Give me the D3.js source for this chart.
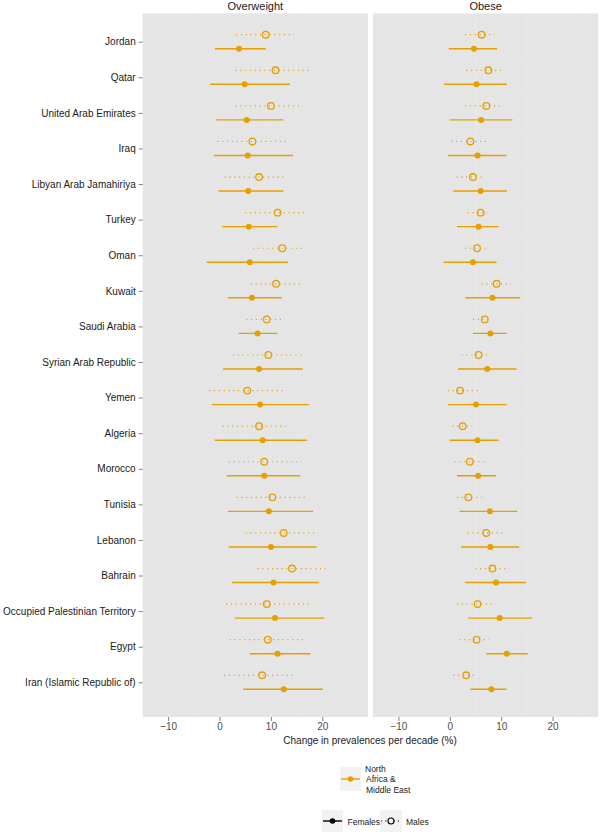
<!DOCTYPE html>
<html><head><meta charset="utf-8">
<script src="https://cdn.jsdelivr.net/npm/d3@7/dist/d3.min.js"></script>
<style>body{margin:0;background:#fff}svg{display:block}text{font-family:"Liberation Sans",Arial,sans-serif}</style>
</head><body>
<script>
const countries = ["Jordan","Qatar","United Arab Emirates","Iraq","Libyan Arab Jamahiriya","Turkey","Oman","Kuwait","Saudi Arabia","Syrian Arab Republic","Yemen","Algeria","Morocco","Tunisia","Lebanon","Bahrain","Occupied Palestinian Territory","Egypt","Iran (Islamic Republic of)"];
const panels = ["Overweight","Obese"];
const xTicks = [-10,0,10,20];
// Overweight: [est, lo, hi]
const owMales = [[9.0,3.2,14.5],[10.9,3.1,17.9],[10.0,3.1,16.2],[6.4,-0.4,13.5],[7.7,1.0,13.1],[11.3,5.0,17.0],[12.2,6.5,16.8],[11.0,6.1,15.7],[9.2,5.2,12.7],[9.5,2.6,16.4],[5.4,-2.0,12.9],[7.7,0.6,12.9],[8.7,1.8,15.9],[10.3,3.3,16.6],[12.5,5.1,19.2],[14.1,7.4,20.6],[9.2,1.3,17.7],[9.4,2.0,17.0],[8.3,0.9,14.2]];
const owFemales = [[3.8,-0.9,9.0],[4.9,-1.8,13.7],[5.3,-0.7,12.4],[5.5,-1.1,14.3],[5.6,-0.2,12.4],[5.7,0.5,11.3],[5.9,-2.5,13.3],[6.3,1.6,12.1],[7.4,3.7,11.3],[7.7,0.7,16.2],[7.9,-1.5,17.4],[8.4,-0.9,17.0],[8.7,1.4,15.7],[9.6,1.6,18.2],[10.0,1.8,18.9],[10.5,2.4,19.3],[10.8,3.0,20.4],[11.3,5.9,17.7],[12.5,4.6,20.1]];
// Obese: [est, lo, hi]
const obMales = [[6.2,3.0,8.7],[7.5,3.2,10.0],[7.1,3.0,9.8],[4.0,0.3,7.1],[4.5,1.3,6.7],[6.0,3.5,7.3],[5.3,3.0,7.6],[9.1,6.2,11.9],[6.8,4.5,8.2],[5.6,2.3,8.0],[2.0,-0.4,5.4],[2.5,0.5,4.3],[3.9,0.9,7.5],[3.6,1.4,6.2],[7.1,3.5,10.2],[8.3,5.0,11.6],[5.4,1.4,8.9],[5.2,1.9,7.6],[3.2,0.7,4.7]];
const obFemales = [[4.7,-0.2,9.2],[5.2,-1.1,11.1],[6.1,0.0,12.2],[5.4,-0.3,11.0],[6.0,0.7,11.1],[5.6,1.4,9.5],[4.5,-1.2,9.1],[8.3,3.0,13.7],[7.9,4.5,11.1],[7.3,1.6,13.0],[5.1,-0.4,11.1],[5.4,0.0,9.5],[5.5,1.4,9.0],[7.8,1.9,13.1],[7.9,2.2,13.5],[9.0,3.0,14.8],[9.7,3.6,16.0],[11.1,7.1,15.2],[8.1,4.0,11.0]];
const regionLabel = ["North","Africa &","Middle East"];
const sexLabels = ["Females","Males"];

const W=600,H=834, col="#E69F00";
const svg=d3.select("body").append("svg").attr("width",W).attr("height",H);
const pTop=13.3, pBottom=717;
const panelX=[[142.7,368],[373,598.3]];
const y=d3.scalePoint().domain(countries).range([41.7,682.3]);
const dodge=7;
const data=[[owMales,owFemales],[obMales,obFemales]];

panels.forEach((p,pi)=>{
  const x=d3.scaleLinear().domain([-14.95,28.9]).range(panelX[pi]);
  const g=svg.append("g");
  g.append("rect").attr("x",panelX[pi][0]).attr("y",pTop).attr("width",panelX[pi][1]-panelX[pi][0]).attr("height",pBottom-pTop).attr("fill","#E5E5E5");
  [-5,5,15,25].forEach(v=>g.append("line").attr("x1",x(v)).attr("x2",x(v)).attr("y1",pTop).attr("y2",pBottom).attr("stroke","#EBEBEB").attr("stroke-width",0.6));
  xTicks.forEach(v=>g.append("line").attr("x1",x(v)).attr("x2",x(v)).attr("y1",pTop).attr("y2",pBottom).attr("stroke","#E8E8E8").attr("stroke-width",0.6));
  countries.slice(1).forEach((c,i)=>{const yy=(y(countries[i])+y(c))/2;
    g.append("line").attr("x1",panelX[pi][0]).attr("x2",panelX[pi][1]).attr("y1",yy).attr("y2",yy).attr("stroke","#EAEAEA").attr("stroke-width",0.6);});
  svg.append("text").attr("x",(panelX[pi][0]+panelX[pi][1])/2).attr("y",10).attr("text-anchor","middle").attr("font-size",11).attr("fill","#1a1a1a").text(p);
  const ax=svg.append("g").attr("transform",`translate(0,${pBottom})`).call(d3.axisBottom(x).tickValues(xTicks).tickSize(4).tickPadding(2).tickFormat(d=>d<0?"\u2212"+Math.abs(d):d));
  ax.select(".domain").remove();
  ax.selectAll("line").attr("stroke","#7f7f7f");
  ax.selectAll("text").attr("font-size",10).attr("fill","#4d4d4d").attr("font-family","Liberation Sans, Arial, sans-serif");
  const [males,females]=data[pi];
  countries.forEach((c,i)=>{
    const f=females[i], yy=y(c)+dodge;
    g.append("line").attr("x1",x(f[1])).attr("x2",x(f[2])).attr("y1",yy).attr("y2",yy).attr("stroke",col).attr("stroke-width",1.4);
    g.append("circle").attr("cx",x(f[0])).attr("cy",yy).attr("r",3).attr("fill",col);
    const m=males[i], ym=y(c)-dodge;
    g.append("line").attr("x1",x(m[1])).attr("x2",x(m[2])).attr("y1",ym).attr("y2",ym).attr("stroke",col).attr("stroke-width",1.2).attr("stroke-dasharray","1.1,3.7");
    g.append("circle").attr("cx",x(m[0])).attr("cy",ym).attr("r",3.3).attr("fill","none").attr("stroke",col).attr("stroke-width",1.3);
  });
});
const yax=svg.append("g").attr("transform",`translate(${panelX[0][0]},0)`).call(d3.axisLeft(y).tickSize(4).tickPadding(3));
yax.select(".domain").remove();
yax.selectAll("line").attr("stroke","#7f7f7f");
yax.selectAll("text").attr("font-size",10).attr("fill","#1a1a1a").attr("font-family","Liberation Sans, Arial, sans-serif");
svg.append("text").attr("x",370).attr("y",744).attr("text-anchor","middle").attr("font-size",10).attr("fill","#1a1a1a").text("Change in prevalences per decade (%)");
svg.append("rect").attr("x",340).attr("y",767).attr("width",21).attr("height",24).attr("fill","#F2F2F2");
svg.append("line").attr("x1",341).attr("x2",360).attr("y1",779).attr("y2",779).attr("stroke",col).attr("stroke-width",1.4);
svg.append("circle").attr("cx",350.5).attr("cy",779).attr("r",2.8).attr("fill",col);
regionLabel.forEach((t,i)=>svg.append("text").attr("x",i==0?365:366).attr("y",772+i*10.3).attr("font-size",8.5).attr("fill","#1a1a1a").text(t));
svg.append("rect").attr("x",322).attr("y",810).attr("width",21).attr("height",22).attr("fill","#F2F2F2");
svg.append("line").attr("x1",323).attr("x2",342).attr("y1",821).attr("y2",821).attr("stroke","#000").attr("stroke-width",1.4);
svg.append("circle").attr("cx",332.5).attr("cy",821).attr("r",2.8).attr("fill","#000");
svg.append("text").attr("x",347.5).attr("y",824.5).attr("font-size",8.5).attr("fill","#1a1a1a").text(sexLabels[0]);
svg.append("rect").attr("x",380).attr("y",810).attr("width",22).attr("height",22).attr("fill","#F2F2F2");
svg.append("line").attr("x1",381).attr("x2",401).attr("y1",821).attr("y2",821).attr("stroke","#000").attr("stroke-width",1.2).attr("stroke-dasharray","1.2,3");
svg.append("circle").attr("cx",391).attr("cy",821).attr("r",3).attr("fill","#F2F2F2").attr("stroke","#000").attr("stroke-width",1.1);
svg.append("text").attr("x",406).attr("y",824.5).attr("font-size",8.5).attr("fill","#1a1a1a").text(sexLabels[1]);
</script>
</body></html>
